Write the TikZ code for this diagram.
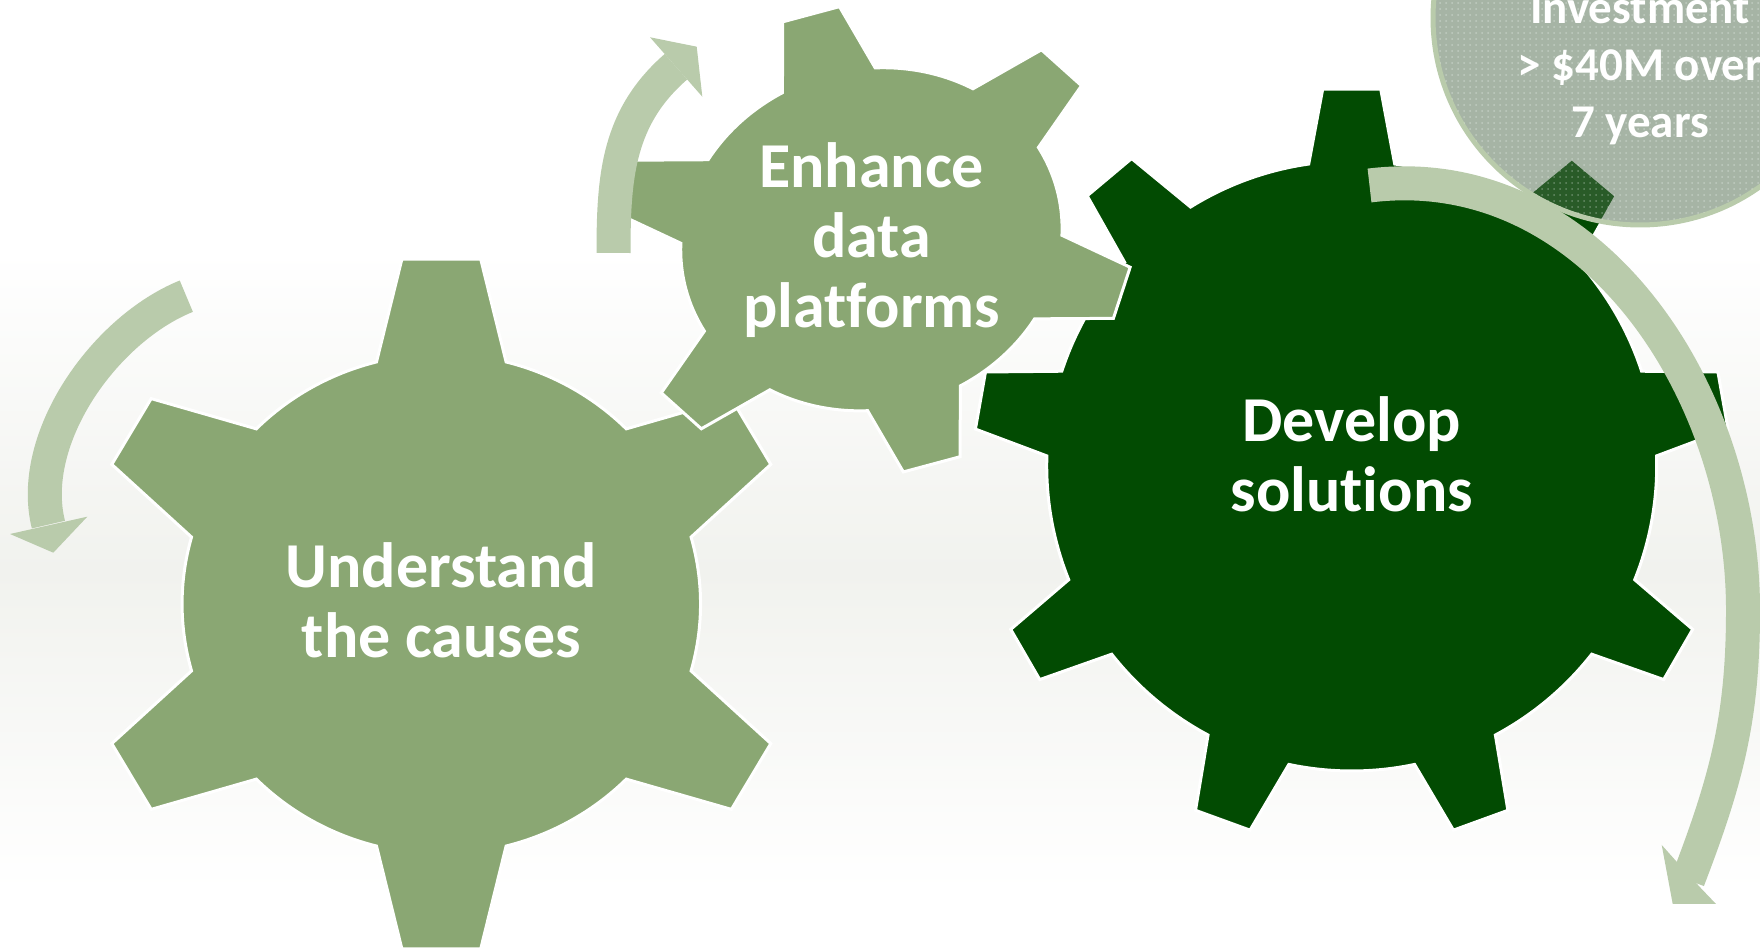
\documentclass[tikz,border=0pt]{standalone}
\usepackage{fontspec}
\setmainfont{Carlito}[Ligatures=NoCommon]
\usetikzlibrary{patterns}

\definecolor{cogleaf}{RGB}{138,167,115}
\definecolor{cogforest}{RGB}{2,75,2}
\definecolor{swirlgreen}{RGB}{185,203,171}
\definecolor{badgefill}{RGB}{80,108,78}
\definecolor{bgwash}{RGB}{241,242,238}

% cog round (0,0): #1 style, #2 teeth, #3 root radius,
% #4 tip radius, #5 half width at the tip, #6 half width at the root
\newcommand{\cogwheel}[6]{%
  \pgfmathsetmacro\cogstep{360/#2}%
  \pgfmathtruncatemacro\coglast{#2-1}%
  \pgfmathsetmacro\cogroot{asin(#6/#3)}%
  \pgfmathsetmacro\cogtip{atan(#5/#4)}%
  \pgfmathsetmacro\cogtipr{veclen(#4,#5)}%
  \filldraw[#1] ({90-\cogstep+\cogroot}:#3)
    \foreach \k in {0,...,\coglast} {
      arc[start angle={90+(\k-1)*\cogstep+\cogroot}, end angle={90+\k*\cogstep-\cogroot}, radius=#3]
      -- ({90+\k*\cogstep-\cogtip}:\cogtipr) -- ({90+\k*\cogstep+\cogtip}:\cogtipr)
      -- ({90+\k*\cogstep+\cogroot}:#3)
    } -- cycle;}

\begin{document}
\begin{tikzpicture}[x=0.5pt, y=0.5pt,
    cog/.style={fill=#1, draw=white, line width=1.5pt},
    cogtext/.style={text=white, align=center, font=\fontsize{32}{35}\selectfont\bfseries},
    swirl/.style={draw=swirlgreen, line width=17pt},
    swirlhead/.style={fill=swirlgreen}]
    \useasboundingbox (0,0) rectangle (1760,951);
    \shade[top color=white, bottom color=white, middle color=bgwash] (0,60) rectangle (1760,700);

    % cogs, back to front
    \begin{scope}[shift={(1351.7,485)}]
        \cogwheel{cog=cogforest}{9}{305}{377}{29}{43}
    \end{scope}
    \begin{scope}[shift={(441.3,347)}, xscale=1.037]
        \cogwheel{cog=cogleaf}{6}{250}{345}{38}{62.5}
    \end{scope}
    \begin{scope}[shift={(871.4,711.7)}, rotate=15, xscale=1.13]
        \cogwheel{cog=cogleaf}{6}{170}{233}{26}{42.5}
    \end{scope}

    % turning arrows
    \coordinate (causesTail) at (186.3,654.8);
    \coordinate (causesEnd) at (48.4,426.4);
    \coordinate (causesBarbA) at (10,417);
    \coordinate (causesTip) at (53.3,398.3);
    \coordinate (causesBarbB) at (87.3,434.3);
    \draw[swirl] (causesTail) to[out=202, in=104, looseness=0.85] (causesEnd);
    \fill[swirlhead] (causesBarbA) -- (causesTip) -- (causesBarbB) -- cycle;

    \coordinate (dataTail) at (613.5,698);
    \coordinate (dataEnd) at (676,884.3);
    \coordinate (dataBarbA) at (650,913.7);
    \coordinate (dataTip) at (696.7,904.3);
    \coordinate (dataBarbB) at (702.3,854.3);
    \draw[swirl] (dataTail) to[out=90, in=221] (dataEnd);
    \fill[swirlhead] (dataBarbA) -- (dataTip) -- (dataBarbB) -- cycle;

    \coordinate (solTail) at (1369.5,765.5);
    \coordinate (solSide) at (1743,341);
    \coordinate (solEnd) at (1688,71);
    \draw[swirl] (solTail) to[out=7, in=90] (solSide) to[out=270, in=69] (solEnd);
    \fill[swirlhead] (1661.7,106) -- (1672.7,47) -- (1716,47) -- (1701,62.7) -- (1676,90) -- cycle;

    % investment badge
    \filldraw[draw=swirlgreen, line width=2.5pt, fill=badgefill, fill opacity=0.51] (1640,933) circle[radius=207];
    \fill[pattern=dots, pattern color=white, opacity=0.3] (1640,933) circle[radius=205];

    \node[cogtext] (causes) at (441.3,351) {Understand\\the causes};
    \node[cogtext] (platforms) at (871.7,711.2) {Enhance\\data\\platforms};
    \node[cogtext] (solutions) at (1351.7,496.7) {Develop\\solutions};
    \node[cogtext, font=\fontsize{23.5}{28.5}\selectfont\bfseries] (invest) at (1640,881.7) {Investment\\> \$40M over\\7 years};
\end{tikzpicture}
\end{document}
